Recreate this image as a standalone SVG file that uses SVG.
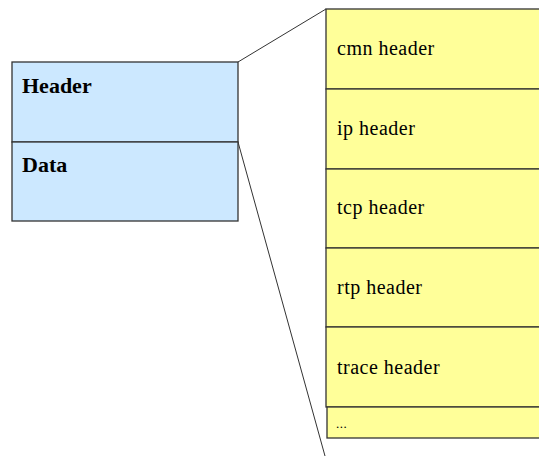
<svg xmlns="http://www.w3.org/2000/svg" width="539" height="456" viewBox="0 0 539 456">
<style>
.blue{fill:#cce8ff;stroke:#333;stroke-width:1.3}
.yel{fill:#ffff99;stroke:#333;stroke-width:1.3}
.t{font-family:"Liberation Serif",serif;font-size:20px;letter-spacing:0.5px;fill:#000}
.b{font-family:"Liberation Serif",serif;font-size:22px;font-weight:bold;fill:#000}
.con{stroke:#333;stroke-width:1;fill:none}
</style>
<rect width="539" height="456" fill="#fff"/>
<g id="connectors">
<line class="con" x1="238" y1="62" x2="326" y2="9"/>
<line class="con" x1="238" y1="142" x2="325" y2="456"/>
</g>
<g id="packet">
<g id="header"><rect class="blue" x="12" y="62" width="226" height="80"/><text class="b" x="22" y="93">Header</text></g>
<g id="data"><rect class="blue" x="12" y="142" width="226" height="79"/><text class="b" x="22" y="172">Data</text></g>
</g>
<g id="stack">
<g id="cmn"><rect class="yel" x="326" y="9" width="220" height="80"/><text class="t" x="337" y="55">cmn header</text></g>
<g id="ip"><rect class="yel" x="326" y="89" width="220" height="80"/><text class="t" x="337" y="135">ip header</text></g>
<g id="tcp"><rect class="yel" x="326" y="169" width="220" height="79"/><text class="t" x="337" y="214">tcp header</text></g>
<g id="rtp"><rect class="yel" x="326" y="248" width="220" height="79"/><text class="t" x="337" y="294">rtp header</text></g>
<g id="trace"><rect class="yel" x="326" y="327" width="220" height="80"/><text class="t" x="337" y="374">trace header</text></g>
<g id="more"><rect class="yel" x="327" y="407" width="220" height="31"/><text class="t" x="336" y="428" style="font-size:13px">...</text></g>
</g>
</svg>
